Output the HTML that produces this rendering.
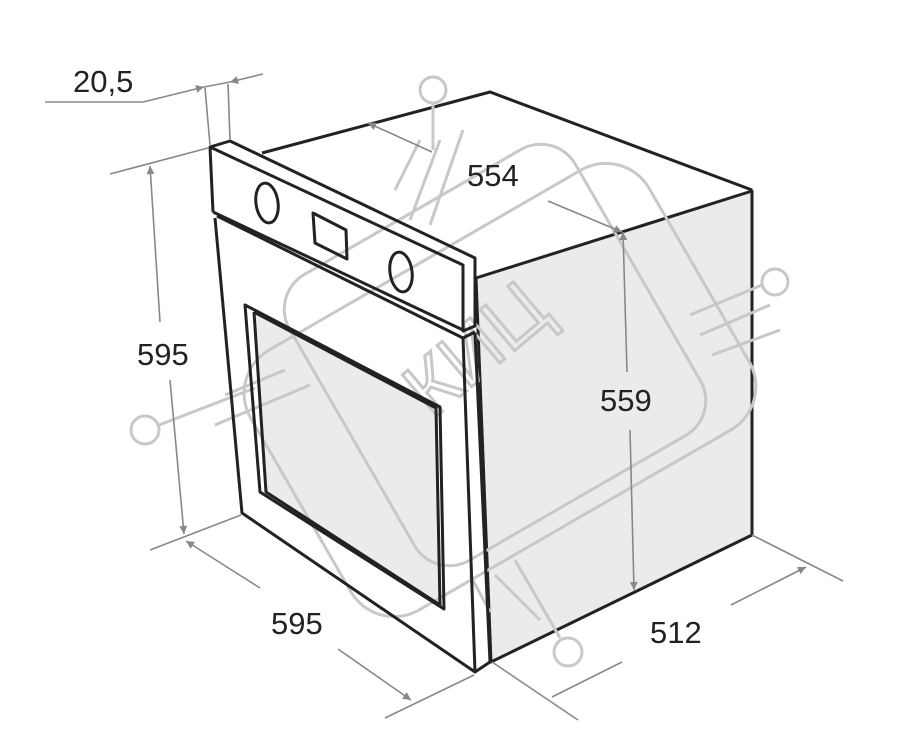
<!DOCTYPE html>
<html><head><meta charset="utf-8"><style>
html,body{margin:0;padding:0;background:#fff;}
svg{display:block}
text.l{font-family:"Liberation Sans",sans-serif;font-size:31px;fill:#222;}
</style></head><body>
<svg width="920" height="748" viewBox="0 0 920 748" xmlns="http://www.w3.org/2000/svg">
<defs>
<marker id="ar" viewBox="0 0 10 10" refX="10" refY="5" markerWidth="10" markerHeight="8" orient="auto-start-reverse" markerUnits="userSpaceOnUse"><path d="M0,0 L10,5 L0,10 z" fill="#888"/></marker>
</defs>
<polygon points="476,278 752,191 752,535 491,662" fill="#ebebeb" stroke="#222" stroke-width="3" stroke-linejoin="round"/>
<polyline points="262,153 490,92 752,190" fill="none" stroke="#222" stroke-width="3"/>
<polygon points="254,312 436,408 440,605 266,492" fill="#ebebeb"/>
<g fill="none" stroke="#c8c8c8" stroke-width="3">
<rect x="330" y="190" width="330" height="330" rx="40" transform="rotate(-30 495 355)"/>
<rect x="270" y="240" width="460" height="300" rx="50" transform="rotate(-30 500 390)"/>
<circle cx="433" cy="90" r="13"/><line x1="433" y1="103" x2="433" y2="150"/>
<line x1="420" y1="140" x2="395" y2="190"/><line x1="440" y1="140" x2="410" y2="220"/><line x1="463" y1="130" x2="430" y2="225"/>
<circle cx="775" cy="282" r="13"/><line x1="762" y1="285" x2="690" y2="315"/><line x1="770" y1="305" x2="700" y2="335"/><line x1="780" y1="330" x2="712" y2="355"/>
<circle cx="145" cy="430" r="14"/><line x1="159" y1="425" x2="255" y2="388"/><line x1="215" y1="425" x2="310" y2="385"/><line x1="225" y1="395" x2="285" y2="370"/>
<circle cx="568" cy="652" r="14"/><line x1="560" y1="638" x2="515" y2="560"/><line x1="540" y1="620" x2="495" y2="575"/><line x1="490" y1="612" x2="470" y2="575"/>
</g>
<text x="0" y="0" transform="translate(432,420) rotate(-40)" style="font-family:'Liberation Sans','Noto Sans CJK SC',sans-serif;font-size:78px;fill:none;stroke:#c8c8c8;stroke-width:3">КИЦ</text>
<g fill="none" stroke="#222" stroke-width="3" stroke-linejoin="round">
<polygon points="210,147 230,141 475,258 475,326 463,331 463,265"/>
<line x1="210" y1="147" x2="213" y2="212"/>
<polyline points="213,212 463,330"/>
<ellipse cx="267" cy="203" rx="11" ry="20" transform="rotate(-8 267 203)"/>
<ellipse cx="401" cy="272" rx="11" ry="20" transform="rotate(-8 401 272)"/>
<polygon points="313,213 346,230 347,259 315,243"/>
<polyline points="217,216 463,338 475,332"/>
<polyline points="215,218 242,513 475,672 490,662"/>
<line x1="463" y1="338" x2="475" y2="672"/>
<line x1="475" y1="333" x2="490" y2="662"/>
<polygon points="245,305 440,407 444,609 260,492"/>
<polyline points="254,312 436,408 440,605 266,492 254,312"/>
</g>
<g fill="none" stroke="#888" stroke-width="1.6">
<polyline points="45,102 143,102 204,87" marker-end="url(#ar)"/>
<line x1="263" y1="74" x2="230" y2="82" marker-end="url(#ar)"/>
<line x1="204" y1="87" x2="230" y2="82"/>
<line x1="205" y1="88" x2="210" y2="145"/><line x1="228" y1="84" x2="230" y2="140"/>
<line x1="110" y1="174" x2="208" y2="148"/>
<line x1="160" y1="322" x2="150" y2="166" marker-end="url(#ar)"/>
<line x1="170" y1="380" x2="184" y2="534" marker-end="url(#ar)"/>
<line x1="150" y1="550" x2="241" y2="515"/>
<line x1="260" y1="588" x2="186" y2="541" marker-end="url(#ar)"/>
<line x1="338" y1="649" x2="411" y2="700" marker-end="url(#ar)"/>
<line x1="385" y1="718" x2="474" y2="675"/>
<line x1="492" y1="662" x2="578" y2="720"/>
<line x1="552" y1="697" x2="622" y2="662"/>
<line x1="752" y1="535" x2="843" y2="581"/>
<line x1="731" y1="605" x2="806" y2="567" marker-end="url(#ar)"/>
<line x1="432" y1="152" x2="368" y2="123" marker-end="url(#ar)"/>
<line x1="548" y1="201" x2="622" y2="232" marker-end="url(#ar)"/>
<line x1="627" y1="372" x2="623" y2="232" marker-end="url(#ar)"/>
<line x1="630" y1="430" x2="634" y2="590" marker-end="url(#ar)"/>
</g>
<text class="l" x="73" y="92">20,5</text>
<text class="l" x="467" y="186">554</text>
<text class="l" x="137" y="365">595</text>
<text class="l" x="600" y="411">559</text>
<text class="l" x="271" y="634">595</text>
<text class="l" x="650" y="643">512</text>
</svg>
</body></html>
